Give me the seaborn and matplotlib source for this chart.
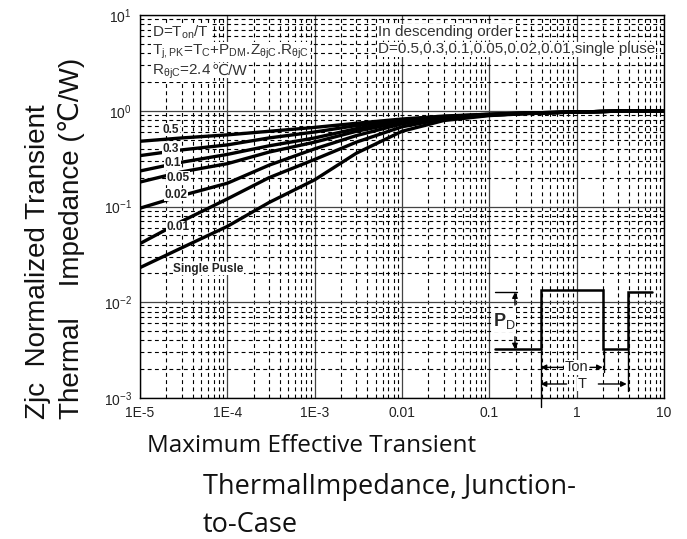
import matplotlib
matplotlib.use('Agg')
import matplotlib.pyplot as plt
import matplotlib.ticker as mticker
import seaborn as sns
import numpy as np
import pandas as pd

# pulse width (s)
pulse_time = [1e-5, 3e-5, 1e-4, 3e-4, 1e-3, 3e-3, 1e-2, 3e-2, 1e-1, 3e-1, 1, 3, 10]

# normalized Zjc for each duty cycle
z_d05 = [0.48, 0.52, 0.56, 0.61, 0.67, 0.74, 0.82, 0.88, 0.92, 0.95, 0.97, 0.99, 1.0]
z_d03 = [0.34, 0.39, 0.44, 0.52, 0.60, 0.70, 0.80, 0.87, 0.92, 0.95, 0.97, 0.99, 1.0]
z_d01 = [0.235, 0.29, 0.35, 0.43, 0.52, 0.65, 0.78, 0.86, 0.91, 0.95, 0.97, 0.99, 1.0]
z_d005 = [0.18, 0.23, 0.28, 0.37, 0.47, 0.61, 0.76, 0.85, 0.91, 0.95, 0.97, 0.99, 1.0]
z_d002 = [0.096, 0.13, 0.175, 0.27, 0.40, 0.55, 0.73, 0.84, 0.90, 0.94, 0.97, 0.99, 1.0]
z_d001 = [0.041, 0.07, 0.12, 0.20, 0.31, 0.47, 0.68, 0.82, 0.90, 0.94, 0.97, 0.99, 1.0]
z_single = [0.023, 0.037, 0.062, 0.11, 0.19, 0.36, 0.61, 0.79, 0.89, 0.94, 0.97, 0.99, 1.0]

duty_names = ['0.5', '0.3', '0.1', '0.05', '0.02', '0.01', 'Single Pusle']
curves = [z_d05, z_d03, z_d01, z_d005, z_d002, z_d001, z_single]

x_tick_vals = [1e-5, 1e-4, 1e-3, 1e-2, 1e-1, 1, 10]
x_tick_labels = ['1E-5', '1E-4', '1E-3', '0.01', '0.1', '1', '10']

rows = []
for name, zs in zip(duty_names, curves):
    for t, z in zip(pulse_time, zs):
        rows.append({'t': t, 'z': z, 'duty': name})
df = pd.DataFrame(rows)

sns.set_style('white')
plt.rcParams['font.family'] = ['Liberation Sans', 'DejaVu Sans']
plt.rcParams['mathtext.fontset'] = 'custom'
plt.rcParams['mathtext.rm'] = 'Liberation Sans'
plt.rcParams['mathtext.it'] = 'Liberation Sans'

fig = plt.figure(figsize=(6.87, 5.39), dpi=100)
ax = fig.add_axes([140/687, 141/539, 524/687, 383/539])

sns.lineplot(data=df, x='t', y='z', hue='duty', hue_order=duty_names,
             palette=['black']*7, lw=2.4, legend=False, ax=ax, sort=True)

ax.set_xscale('log')
ax.set_yscale('log')
ax.set_xlim(1e-5, 10)
ax.set_ylim(1e-3, 10)
ax.set_xticks(x_tick_vals)
ax.set_xticklabels(x_tick_labels)
ax.xaxis.set_minor_locator(mticker.LogLocator(base=10, subs=np.arange(2, 10)))
ax.yaxis.set_minor_locator(mticker.LogLocator(base=10, subs=np.arange(2, 10)))
ax.xaxis.set_minor_formatter(mticker.NullFormatter())
ax.yaxis.set_minor_formatter(mticker.NullFormatter())
ax.tick_params(which='both', length=0, labelsize=10, colors='#222')
ax.tick_params(axis='y', pad=6)
ax.tick_params(axis='x', pad=6)
ax.grid(which='major', color='#444', lw=0.9, ls='-')
ax.grid(which='minor', color='black', lw=0.8, ls=(0, (3.5, 3)))
ax.set_axisbelow(True)
for s in ax.spines.values():
    s.set_color('black')
    s.set_linewidth(1.0)
ax.set_xlabel('')
ax.set_ylabel('')

# curve labels
lab_pos = [(1.83e-5, 0.63), (1.83e-5, 0.40), (1.9e-5, 0.286), (2.0e-5, 0.20),
           (1.9e-5, 0.132), (2.0e-5, 0.061), (2.4e-5, 0.0223)]
for name, (lx, ly) in zip(duty_names, lab_pos):
    ax.text(lx, ly, name, fontsize=8.5, fontweight='bold', color='#222',
            ha='left', va='center',
            bbox=dict(facecolor='white', edgecolor='none', pad=0.3))

# top-left notes
wb = dict(facecolor='white', edgecolor='none', pad=0.5)
ax.text(0.023, 0.955, r'D=T$_{\rm on}$/T', transform=ax.transAxes, fontsize=11,
        color='#333', va='center', ha='left', bbox=wb)
ax.text(0.023, 0.903, r'T$_{\rm j,PK}$=T$_{\rm C}$+P$_{\rm DM}$.Z$_{\rm \theta jC}$.R$_{\rm \theta jC}$',
        transform=ax.transAxes, fontsize=11, color='#333', va='center', ha='left', bbox=wb)
r1 = ax.text(0.023, 0.845, r'R$_{\rm \theta jC}$=2.4', transform=ax.transAxes, fontsize=11,
             color='#333', va='baseline', ha='left', bbox=wb)
fig.canvas.draw()
r1_end = ax.transAxes.inverted().transform((r1.get_window_extent().x1, 0))[0]
ax.text(r1_end, 0.845, '℃/W', transform=ax.transAxes, fontsize=11,
        color='#333', va='baseline', ha='left', bbox=wb)
ax.text(0.454, 0.955, 'In descending order', transform=ax.transAxes, fontsize=11,
        color='#333', va='center', ha='left', bbox=wb)
ax.text(0.454, 0.91, 'D=0.5,0.3,0.1,0.05,0.02,0.01,single pluse', transform=ax.transAxes,
        fontsize=11, color='#333', va='center', ha='left', bbox=wb)

# pulse sketch (axes fraction coordinates)
T = ax.transAxes
ax.plot([0.6775, 0.7647, 0.7647, 0.8830, 0.8830, 0.9319, 0.9319, 0.9777],
        [0.1271, 0.1271, 0.2820, 0.2820, 0.1271, 0.1271, 0.2780, 0.2780],
        transform=T, color='black', lw=1.8, solid_joinstyle='miter')
ax.plot([0.6775, 0.7189], [0.2760, 0.2760], transform=T, color='black', lw=1.0)
ax.plot([0.7647, 0.7647], [0.1271, -0.023], transform=T, color='black', lw=1.0, clip_on=False)
ax.plot([0.8855, 0.8855], [0.1271, 0.0687], transform=T, color='black', lw=1.0)
ax.plot([0.9319, 0.9319], [0.1271, 0.019], transform=T, color='black', lw=1.0)
arr = dict(arrowstyle='-|>', color='black', lw=1.0, mutation_scale=8, shrinkA=0, shrinkB=0)
ax.annotate('', xy=(0.7156, 0.2760), xytext=(0.7156, 0.2428), xycoords=T, textcoords=T, arrowprops=arr)
ax.annotate('', xy=(0.7156, 0.1271), xytext=(0.7156, 0.160), xycoords=T, textcoords=T, arrowprops=arr)
ax.text(0.6947, 0.201, r'P$_{\rm D}$', transform=T, fontsize=13, fontweight='bold',
        ha='center', va='center', bbox=dict(facecolor='white', edgecolor='none', pad=0.5))
ax.annotate('', xy=(0.7647, 0.080), xytext=(0.8079, 0.080), xycoords=T, textcoords=T, arrowprops=arr)
ax.annotate('', xy=(0.8830, 0.080), xytext=(0.8588, 0.080), xycoords=T, textcoords=T, arrowprops=arr)
ax.text(0.8333, 0.080, 'Ton', transform=T, fontsize=10.5, ha='center', va='center', color='#222',
        bbox=dict(facecolor='white', edgecolor='none', pad=0.3))
ax.annotate('', xy=(0.7647, 0.0366), xytext=(0.8142, 0.0366), xycoords=T, textcoords=T, arrowprops=arr)
ax.annotate('', xy=(0.9288, 0.0366), xytext=(0.8747, 0.0366), xycoords=T, textcoords=T, arrowprops=arr)
ax.text(0.843, 0.0366, 'T', transform=T, fontsize=10.5, ha='center', va='center', color='#222',
        bbox=dict(facecolor='white', edgecolor='none', pad=0.3))

# axis titles
fig.text(55/687, 1 - 419/539, 'Zjc  Normalized Transient\nThermal    Impedance (℃/W)',
         rotation=90, ha='center', va='bottom', multialignment='left',
         fontsize=20, linespacing=1.3, color='#111')
xl_font = ['Open Sans', 'DejaVu Sans']
fig.text(147/687, 1 - 446/539, 'Maximum Effective Transient', family=xl_font,
         fontsize=17.5, ha='left', va='center', color='#111')
fig.text(203/687, 1 - 487/539, 'ThermalImpedance, Junction-', family=xl_font,
         fontsize=19.5, ha='left', va='center', color='#111')
fig.text(203/687, 1 - 525/539, 'to-Case', family=xl_font,
         fontsize=19.5, ha='left', va='center', color='#111')

fig.savefig('out.png', dpi=100)
